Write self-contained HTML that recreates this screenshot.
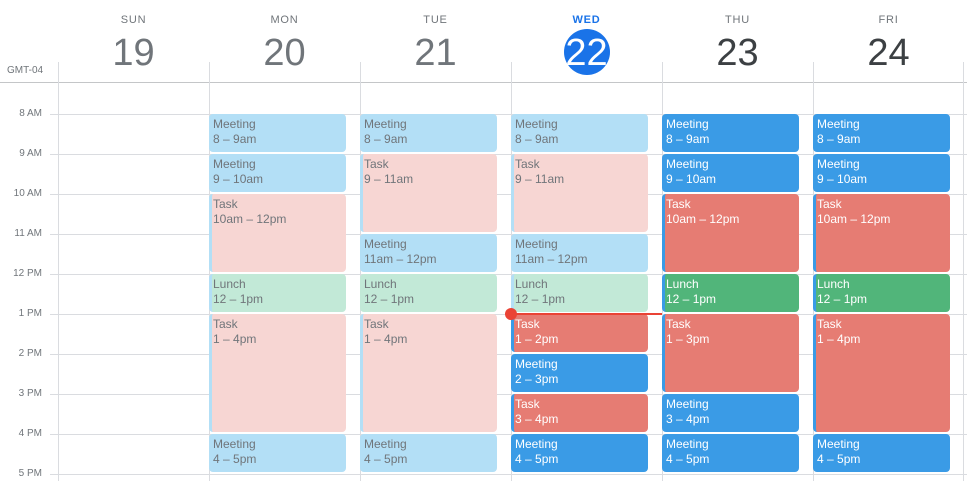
<!DOCTYPE html>
<html><head><meta charset="utf-8"><style>
*{margin:0;padding:0;box-sizing:border-box}
body{width:967px;height:481px;background:#fff;position:relative;overflow:hidden;font-family:"Liberation Sans",sans-serif}
.a{position:absolute}
.hl{position:absolute;left:50px;width:917px;height:1px;background:#dadce0}
.vl{position:absolute;top:62px;height:419px;width:1px;background:#dadce0}
.tl{position:absolute;right:925px;font-size:10px;color:#70757a;white-space:nowrap}
.dn{position:absolute;width:151px;text-align:center;font-size:11px;letter-spacing:.8px;top:14px;color:#70757a}
.dd{position:absolute;width:151px;text-align:center;font-size:38px;line-height:40px;top:33px;color:#70757a}
.e{position:absolute;width:137px;border-radius:4px;padding:3px 0 0 4px;font-size:12px;line-height:15px;overflow:hidden}
.e b{font-weight:normal;display:block}
.p{color:#70757a}.f{color:#fff}
.lb{background:#b3dff6}.lp{background:#f7d6d3}.lg{background:#c2e9d7}
.B{background:#3a9be6}.R{background:#e67c73}.G{background:#51b57a}
.s{border-left:3px solid #b3dff6;padding-left:1px}
.S{border-left:3px solid #3a9be6;padding-left:1px}
</style></head><body>
<div class="a" style="left:0;top:82px;width:967px;height:1px;background:#c4c6c8"></div>
<div class="a" style="left:7px;top:65px;font-size:10px;color:#70757a">GMT-04</div>
<div class="hl" style="top:114px"></div><div class="hl" style="top:154px"></div><div class="hl" style="top:194px"></div><div class="hl" style="top:234px"></div><div class="hl" style="top:274px"></div><div class="hl" style="top:314px"></div><div class="hl" style="top:354px"></div><div class="hl" style="top:394px"></div><div class="hl" style="top:434px"></div><div class="hl" style="top:474px"></div>
<div class="tl" style="top:108px">8 AM</div><div class="tl" style="top:148px">9 AM</div><div class="tl" style="top:188px">10 AM</div><div class="tl" style="top:228px">11 AM</div><div class="tl" style="top:268px">12 PM</div><div class="tl" style="top:308px">1 PM</div><div class="tl" style="top:348px">2 PM</div><div class="tl" style="top:388px">3 PM</div><div class="tl" style="top:428px">4 PM</div><div class="tl" style="top:468px">5 PM</div>
<div class="vl" style="left:58px"></div><div class="vl" style="left:209px"></div><div class="vl" style="left:360px"></div><div class="vl" style="left:511px"></div><div class="vl" style="left:662px"></div><div class="vl" style="left:813px"></div><div class="vl" style="left:963px"></div>
<div class="dn" style="left:58px">SUN</div><div class="dd" style="left:58px">19</div>
<div class="dn" style="left:209px">MON</div><div class="dd" style="left:209px">20</div>
<div class="dn" style="left:360px">TUE</div><div class="dd" style="left:360px">21</div>
<div class="dn" style="left:511px;color:#1a73e8;font-weight:bold">WED</div>
<div class="a" style="left:564px;top:29px;width:46px;height:46px;border-radius:50%;background:#1a73e8"></div>
<div class="dd" style="left:511px;color:#fff">22</div>
<div class="dn" style="left:662px">THU</div><div class="dd" style="left:662px;color:#3c4043">23</div>
<div class="dn" style="left:813px">FRI</div><div class="dd" style="left:813px;color:#3c4043">24</div>

<!-- MON -->
<div class="e p lb" style="left:209px;top:114px;height:38px"><b>Meeting</b>8 – 9am</div>
<div class="e p lb" style="left:209px;top:154px;height:38px"><b>Meeting</b>9 – 10am</div>
<div class="e p lp s" style="left:209px;top:194px;height:78px"><b>Task</b>10am – 12pm</div>
<div class="e p lg s" style="left:209px;top:274px;height:38px"><b>Lunch</b>12 – 1pm</div>
<div class="e p lp s" style="left:209px;top:314px;height:118px"><b>Task</b>1 – 4pm</div>
<div class="e p lb" style="left:209px;top:434px;height:38px"><b>Meeting</b>4 – 5pm</div>
<!-- TUE -->
<div class="e p lb" style="left:360px;top:114px;height:38px"><b>Meeting</b>8 – 9am</div>
<div class="e p lp s" style="left:360px;top:154px;height:78px"><b>Task</b>9 – 11am</div>
<div class="e p lb" style="left:360px;top:234px;height:38px"><b>Meeting</b>11am – 12pm</div>
<div class="e p lg" style="left:360px;top:274px;height:38px"><b>Lunch</b>12 – 1pm</div>
<div class="e p lp s" style="left:360px;top:314px;height:118px"><b>Task</b>1 – 4pm</div>
<div class="e p lb" style="left:360px;top:434px;height:38px"><b>Meeting</b>4 – 5pm</div>
<!-- WED -->
<div class="e p lb" style="left:511px;top:114px;height:38px"><b>Meeting</b>8 – 9am</div>
<div class="e p lp s" style="left:511px;top:154px;height:78px"><b>Task</b>9 – 11am</div>
<div class="e p lb" style="left:511px;top:234px;height:38px"><b>Meeting</b>11am – 12pm</div>
<div class="e p lg s" style="left:511px;top:274px;height:38px"><b>Lunch</b>12 – 1pm</div>
<div class="e f R S" style="left:511px;top:314px;height:38px"><b>Task</b>1 – 2pm</div>
<div class="e f B" style="left:511px;top:354px;height:38px"><b>Meeting</b>2 – 3pm</div>
<div class="e f R S" style="left:511px;top:394px;height:38px"><b>Task</b>3 – 4pm</div>
<div class="e f B" style="left:511px;top:434px;height:38px"><b>Meeting</b>4 – 5pm</div>
<!-- THU -->
<div class="e f B" style="left:662px;top:114px;height:38px"><b>Meeting</b>8 – 9am</div>
<div class="e f B" style="left:662px;top:154px;height:38px"><b>Meeting</b>9 – 10am</div>
<div class="e f R S" style="left:662px;top:194px;height:78px"><b>Task</b>10am – 12pm</div>
<div class="e f G S" style="left:662px;top:274px;height:38px"><b>Lunch</b>12 – 1pm</div>
<div class="e f R S" style="left:662px;top:314px;height:78px"><b>Task</b>1 – 3pm</div>
<div class="e f B" style="left:662px;top:394px;height:38px"><b>Meeting</b>3 – 4pm</div>
<div class="e f B" style="left:662px;top:434px;height:38px"><b>Meeting</b>4 – 5pm</div>
<!-- FRI -->
<div class="e f B" style="left:813px;top:114px;height:38px"><b>Meeting</b>8 – 9am</div>
<div class="e f B" style="left:813px;top:154px;height:38px"><b>Meeting</b>9 – 10am</div>
<div class="e f R S" style="left:813px;top:194px;height:78px"><b>Task</b>10am – 12pm</div>
<div class="e f G S" style="left:813px;top:274px;height:38px"><b>Lunch</b>12 – 1pm</div>
<div class="e f R S" style="left:813px;top:314px;height:118px"><b>Task</b>1 – 4pm</div>
<div class="e f B" style="left:813px;top:434px;height:38px"><b>Meeting</b>4 – 5pm</div>
<!-- now line -->
<div class="a" style="left:511px;top:313px;width:151px;height:2px;background:#ea4335"></div>
<div class="a" style="left:505px;top:308px;width:12px;height:12px;border-radius:50%;background:#ea4335"></div>
</body></html>
